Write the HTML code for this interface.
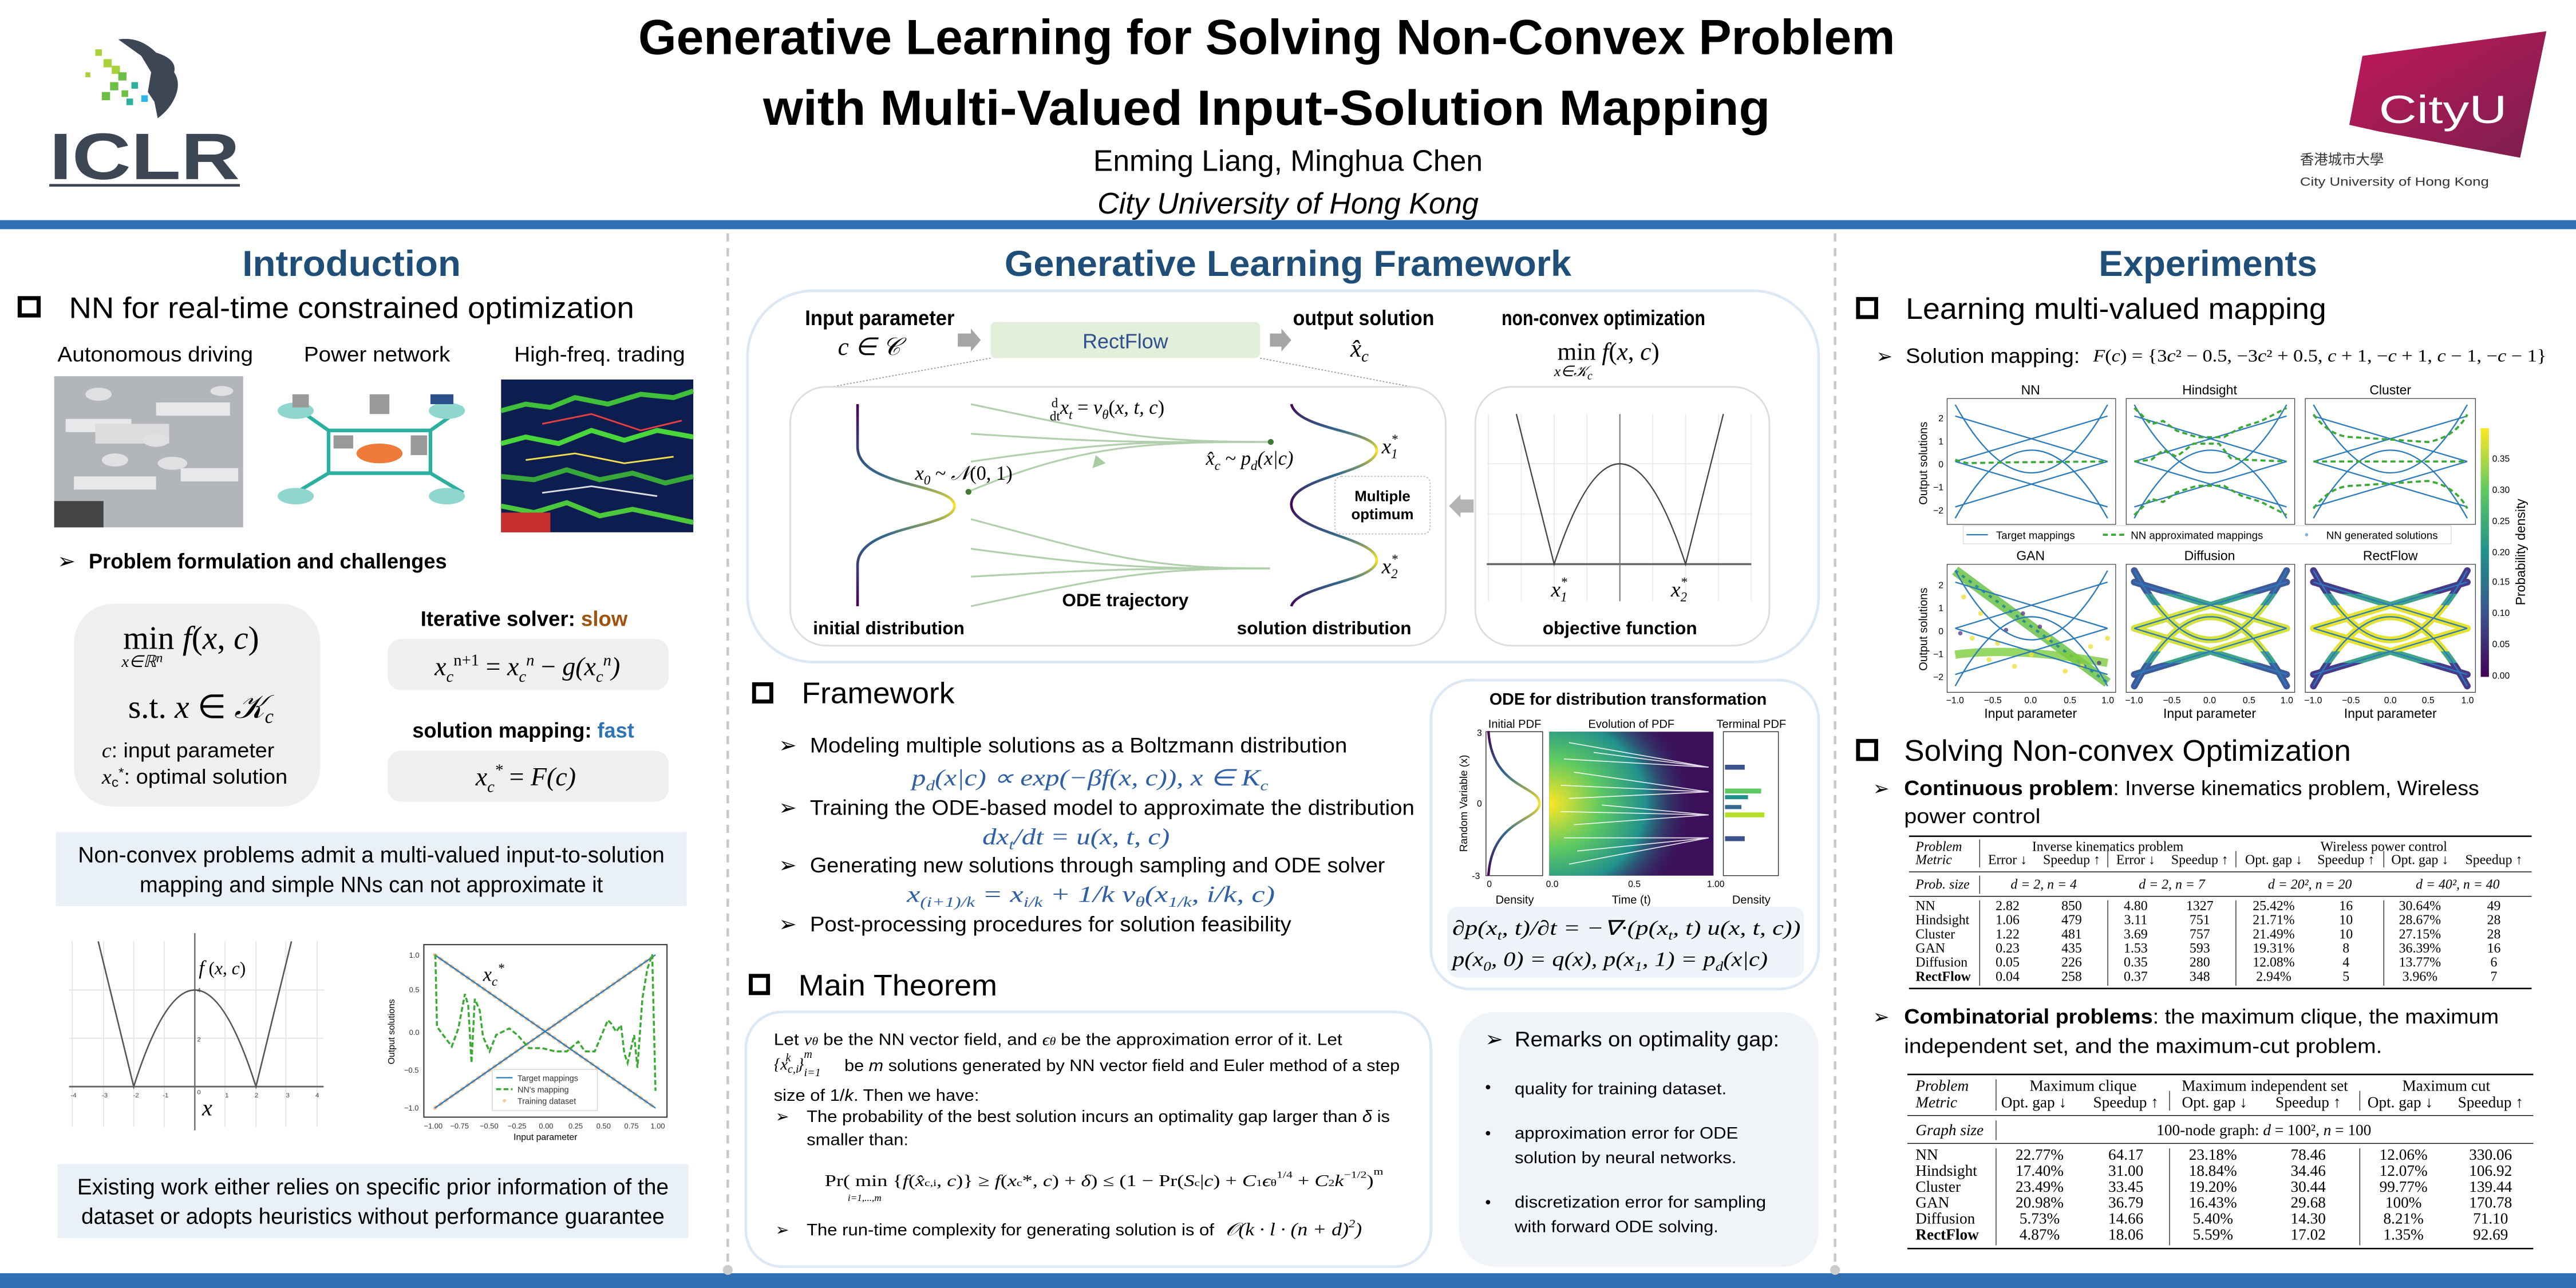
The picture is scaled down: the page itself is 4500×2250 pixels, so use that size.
<!DOCTYPE html>
<html><head><meta charset="utf-8"><style>html,body{margin:0;padding:0;background:#fff}svg{display:block}</style></head><body>
<svg xmlns="http://www.w3.org/2000/svg" width="4500" height="2250" viewBox="0 0 1568 784" font-family="Liberation Sans, sans-serif">
<defs>
<linearGradient id="vir" x1="0" y1="1" x2="0" y2="0"><stop offset="0" stop-color="#440154"/><stop offset=".25" stop-color="#3b528b"/><stop offset=".5" stop-color="#21918c"/><stop offset=".75" stop-color="#5ec962"/><stop offset="1" stop-color="#fde725"/></linearGradient>
<linearGradient id="g1" x1="0" y1="246" x2="0" y2="369" gradientUnits="userSpaceOnUse"><stop offset="0" stop-color="#440154"/><stop offset=".35" stop-color="#31688e"/><stop offset=".5" stop-color="#fde725"/><stop offset=".65" stop-color="#31688e"/><stop offset="1" stop-color="#440154"/></linearGradient>
<linearGradient id="g2" x1="0" y1="246" x2="0" y2="369" gradientUnits="userSpaceOnUse"><stop offset="0" stop-color="#440154"/><stop offset=".13" stop-color="#31688e"/><stop offset=".23" stop-color="#fde725"/><stop offset=".35" stop-color="#31688e"/><stop offset=".5" stop-color="#440154"/><stop offset=".65" stop-color="#31688e"/><stop offset=".77" stop-color="#fde725"/><stop offset=".88" stop-color="#31688e"/><stop offset="1" stop-color="#440154"/></linearGradient>
<linearGradient id="g3" x1="0" y1="445" x2="0" y2="533" gradientUnits="userSpaceOnUse"><stop offset="0" stop-color="#440154"/><stop offset=".3" stop-color="#31688e"/><stop offset=".5" stop-color="#fde725"/><stop offset=".7" stop-color="#31688e"/><stop offset="1" stop-color="#440154"/></linearGradient>
<radialGradient id="rg" cx="0" cy=".5" r=".9"><stop offset="0" stop-color="#fde725"/><stop offset=".35" stop-color="#5ec962"/><stop offset=".65" stop-color="#21918c"/><stop offset="1" stop-color="#3b0f5a" stop-opacity="0"/></radialGradient>
<linearGradient id="city" x1="0" y1="0" x2="1" y2="1"><stop offset="0" stop-color="#c2185b"/><stop offset="1" stop-color="#7b1f4e"/></linearGradient>
<clipPath id="mid"><rect x="0" y="25" width="100" height="28"/></clipPath>
<clipPath id="out1"><rect x="0" y="0" width="100" height="18"/><rect x="0" y="60" width="100" height="18"/></clipPath>
<g id="tm" fill="none" stroke="#2b7bba" stroke-width="0.8">
<path d="M5 4 Q50 88 95 4"/><path d="M5 74 Q50 -10 95 74"/>
<path d="M5 39 L95 11"/><path d="M5 11 L95 39"/><path d="M5 67 L95 39"/><path d="M5 39 L95 67"/>
</g>
<g id="tmw" fill="none" stroke-width="4" stroke-linecap="round">
<path d="M5 4 Q50 88 95 4"/><path d="M5 74 Q50 -10 95 74"/>
<path d="M5 39 L95 11"/><path d="M5 11 L95 39"/><path d="M5 67 L95 39"/><path d="M5 39 L95 67"/>
</g>
</defs>

<!-- HEADER -->
<g>
<g fill="#a8d23a"><rect x="58" y="30" width="4" height="4"/><rect x="63" y="36" width="5" height="5"/><rect x="68" y="40" width="5" height="5"/><rect x="52" y="44" width="3" height="3"/></g>
<g fill="#6cbf45"><rect x="72" y="44" width="5" height="5"/><rect x="67" y="50" width="5" height="5"/><rect x="62" y="56" width="5" height="5"/><rect x="74" y="55" width="4" height="4"/></g>
<g fill="#2bb0a0"><rect x="80" y="50" width="4" height="4"/><rect x="77" y="60" width="4" height="4"/></g>
<rect x="86" y="58" width="4" height="4" fill="#2bb5e8"/>
<path d="M72 24 Q85 22 95 32 Q108 36 106 44 Q110 50 107 58 Q104 66 96 72 L94 62 L90 56 L92 44 L86 34 Z" fill="#3d4654"/>
<text x="30" y="109" font-size="40" font-weight="bold" fill="#3d4654" textLength="116" lengthAdjust="spacingAndGlyphs">ICLR</text>
<rect x="30" y="112" width="116" height="1.6" fill="#3d4654"/>

<text x="771" y="33" text-anchor="middle" font-size="30" font-weight="bold" textLength="765" lengthAdjust="spacingAndGlyphs">Generative Learning for Solving Non-Convex Problem</text>
<text x="771" y="76" text-anchor="middle" font-size="30" font-weight="bold" textLength="613" lengthAdjust="spacingAndGlyphs">with Multi-Valued Input-Solution Mapping</text>
<text x="784" y="104" text-anchor="middle" font-size="18" textLength="237" lengthAdjust="spacingAndGlyphs">Enming Liang, Minghua Chen</text>
<text x="784" y="130" text-anchor="middle" font-size="18" font-style="italic" textLength="232" lengthAdjust="spacingAndGlyphs">City University of Hong Kong</text>

<path d="M1448 80 L1430 76 L1438 34 L1550 19 L1534 96 Z" fill="url(#city)"/>
<text x="1448" y="75" font-size="24" fill="#fff" textLength="78" lengthAdjust="spacingAndGlyphs">CityU</text>
<text x="1400" y="100" font-size="8.5" fill="#333" font-family="Liberation Sans, Noto Sans CJK TC, sans-serif">香港城市大學</text>
<text x="1400" y="113" font-size="7.5" fill="#333" textLength="115" lengthAdjust="spacingAndGlyphs">City University of Hong Kong</text>
</g>

<rect x="0" y="134" width="1568" height="5.5" fill="#2f6fb3"/>
<rect x="0" y="775" width="1568" height="9" fill="#2f6fb3"/>
<line x1="443" y1="142" x2="443" y2="772" stroke="#c9c9c9" stroke-width="1.6" stroke-dasharray="5,4"/>
<line x1="1117" y1="142" x2="1117" y2="772" stroke="#c9c9c9" stroke-width="1.6" stroke-dasharray="5,4"/>
<circle cx="443" cy="773" r="3" fill="#ccc"/><circle cx="1117" cy="773" r="3" fill="#ccc"/>

<!-- INTRODUCTION -->
<text x="214" y="168" text-anchor="middle" font-size="22" font-weight="bold" fill="#1f4e79" textLength="133" lengthAdjust="spacingAndGlyphs">Introduction</text>
<rect x="12" y="181.5" width="11.5" height="10.5" fill="none" stroke="#000" stroke-width="2.5"/>
<text x="42" y="193.5" font-size="18" textLength="344" lengthAdjust="spacingAndGlyphs">NN for real-time constrained optimization</text>
<text x="35" y="220" font-size="13" textLength="119" lengthAdjust="spacingAndGlyphs">Autonomous driving</text>
<text x="185" y="220" font-size="13" textLength="89" lengthAdjust="spacingAndGlyphs">Power network</text>
<text x="313" y="220" font-size="13" textLength="104" lengthAdjust="spacingAndGlyphs">High-freq. trading</text>

<!-- images -->
<rect x="33" y="229" width="115" height="92" fill="#b2b5ba"/>
<g fill="#e8e8ea"><rect x="40" y="255" width="40" height="8"/><rect x="95" y="245" width="45" height="8"/><rect x="45" y="290" width="50" height="8"/><rect x="110" y="285" width="35" height="8"/></g>
<rect x="58" y="258" width="45" height="12" fill="#dcdcdc"/>
<g fill="#e0e0e2"><ellipse cx="60" cy="240" rx="8" ry="4"/><ellipse cx="95" cy="268" rx="8" ry="4"/><ellipse cx="135" cy="238" rx="7" ry="3"/><ellipse cx="105" cy="282" rx="9" ry="4"/><ellipse cx="70" cy="280" rx="8" ry="4"/></g>
<rect x="33" y="305" width="30" height="16" fill="#444"/>
<rect x="165" y="232" width="122" height="84" fill="#fff"/>
<g stroke="#2bb0a0" stroke-width="2.2" fill="none"><path d="M180 248 L200 262 L262 262 L282 248"/><path d="M180 300 L200 288 L262 288 L282 300"/><path d="M200 262 L200 288 M262 262 L262 288"/></g>
<g fill="#8fd6cf"><ellipse cx="180" cy="250" rx="11" ry="5"/><ellipse cx="272" cy="250" rx="11" ry="5"/><ellipse cx="180" cy="302" rx="11" ry="5"/><ellipse cx="272" cy="302" rx="11" ry="5"/></g>
<ellipse cx="231" cy="276" rx="14" ry="6" fill="#f07a3a"/>
<g fill="#999"><rect x="178" y="240" width="10" height="8"/><rect x="262" y="240" width="14" height="6" fill="#2b4f8a"/><rect x="225" y="240" width="12" height="12"/><rect x="203" y="265" width="12" height="8"/><rect x="250" y="265" width="10" height="12"/></g>
<rect x="305" y="231" width="117" height="93" fill="#0d1d4f"/>
<g fill="none" stroke-width="3"><path d="M305 250 L320 246 L335 248 L350 242 L370 246 L390 240 L410 242 L422 238" stroke="#3fbf3a"/><path d="M305 270 L320 266 L340 270 L360 262 L380 268 L400 262 L422 266" stroke="#49d63a"/><path d="M305 290 L325 292 L345 286 L365 292 L385 288 L405 294 L422 290" stroke="#38a83a"/><path d="M305 308 L325 312 L345 306 L365 314 L385 310 L422 318" stroke="#4cc83c"/></g>
<g fill="none" stroke-width="1"><path d="M330 258 L360 252 L390 262 L415 256" stroke="#e84040"/><path d="M320 280 L350 276 L380 282 L410 278" stroke="#f0e050"/><path d="M330 300 L360 296 L400 302" stroke="#ddd"/></g>
<rect x="305" y="312" width="30" height="12" fill="#c83030"/>

<text x="35" y="346" font-size="13">➢</text>
<text x="54" y="346" font-size="13" font-weight="bold" textLength="218" lengthAdjust="spacingAndGlyphs">Problem formulation and challenges</text>
<rect x="45" y="367.5" width="150" height="123.5" rx="24" fill="#efefef"/>
<text x="75" y="395" font-size="20" font-family="Liberation Serif, serif">min <tspan font-style="italic">f</tspan>(<tspan font-style="italic">x</tspan>, <tspan font-style="italic">c</tspan>)</text>
<text x="74" y="406" font-size="10" font-family="Liberation Serif, serif" font-style="italic">x∈ℝ<tspan font-size="8" dy="-3">n</tspan></text>
<text x="78" y="437" font-size="20" font-family="Liberation Serif, serif">s.t.  <tspan font-style="italic">x</tspan> ∈ <tspan font-style="italic">𝒦</tspan><tspan font-size="12" font-style="italic" dy="3">c</tspan></text>
<text x="62" y="461" font-size="12.5" textLength="105" lengthAdjust="spacingAndGlyphs"><tspan font-style="italic" font-family="Liberation Serif, serif">c</tspan>: input parameter</text>
<text x="62" y="477" font-size="12.5" textLength="113" lengthAdjust="spacingAndGlyphs"><tspan font-style="italic" font-family="Liberation Serif, serif">x</tspan><tspan font-size="8" dy="2">c</tspan><tspan font-size="8" dy="-6">*</tspan><tspan dy="4">: optimal solution</tspan></text>

<text x="256" y="381" font-size="13" font-weight="bold" textLength="126" lengthAdjust="spacingAndGlyphs">Iterative solver: <tspan fill="#a0520f">slow</tspan></text>
<rect x="236" y="389" width="171" height="31" rx="8" fill="#efefef"/>
<text x="321" y="411" text-anchor="middle" font-size="16" font-family="Liberation Serif, serif" font-style="italic">x<tspan font-size="10" dy="4">c</tspan><tspan font-size="10" dy="-10" font-style="normal">n+1</tspan><tspan dy="6" font-style="normal"> = </tspan>x<tspan font-size="10" dy="4">c</tspan><tspan font-size="10" dy="-10">n</tspan><tspan dy="6" font-style="normal"> − </tspan>g(x<tspan font-size="10" dy="4">c</tspan><tspan font-size="10" dy="-10">n</tspan><tspan dy="6">)</tspan></text>
<text x="251" y="449" font-size="13" font-weight="bold" textLength="135" lengthAdjust="spacingAndGlyphs">solution mapping: <tspan fill="#2e75b6">fast</tspan></text>
<rect x="236" y="457" width="171" height="31" rx="8" fill="#efefef"/>
<text x="320" y="478" text-anchor="middle" font-size="16" font-family="Liberation Serif, serif" font-style="italic">x<tspan font-size="10" dy="4">c</tspan><tspan font-size="10" dy="-10">*</tspan><tspan dy="6" font-style="normal"> = </tspan>F(c)</text>

<rect x="34" y="506.5" width="384" height="45" fill="#e9f0f8"/>
<text x="226" y="525" text-anchor="middle" font-size="13.5" textLength="357" lengthAdjust="spacingAndGlyphs">Non-convex problems admit a multi-valued input-to-solution</text>
<text x="226" y="543" text-anchor="middle" font-size="13.5" textLength="282" lengthAdjust="spacingAndGlyphs">mapping and simple NNs can not approximate it</text>

<!-- left intro plot -->
<g stroke="#e3e3e3" stroke-width="0.6"><line x1="44" y1="573" x2="44" y2="686"/><line x1="63" y1="573" x2="63" y2="686"/><line x1="81.4" y1="573" x2="81.4" y2="686"/><line x1="100" y1="573" x2="100" y2="686"/><line x1="137" y1="573" x2="137" y2="686"/><line x1="155.8" y1="573" x2="155.8" y2="686"/><line x1="174" y1="573" x2="174" y2="686"/><line x1="193" y1="573" x2="193" y2="686"/><line x1="42" y1="602.6" x2="197" y2="602.6"/><line x1="42" y1="632" x2="197" y2="632"/></g>
<line x1="42" y1="661.4" x2="197" y2="661.4" stroke="#666" stroke-width="1"/>
<line x1="118.6" y1="568" x2="118.6" y2="688" stroke="#666" stroke-width="0.8"/>
<path d="M59.8 573 L81.4 661.4 Q118.6 543.8 155.8 661.4 L177.4 573" fill="none" stroke="#555" stroke-width="0.9"/>
<g font-size="4" fill="#444"><text x="43" y="668">-4</text><text x="62" y="668">-3</text><text x="81" y="668">-2</text><text x="99" y="668">-1</text><text x="120" y="666">0</text><text x="137" y="668">1</text><text x="155" y="668">2</text><text x="174" y="668">3</text><text x="192" y="668">4</text><text x="120" y="604">4</text><text x="120" y="634">2</text></g>
<text x="121" y="593" font-size="12" font-family="Liberation Serif, serif" font-style="italic">f</text><text x="127" y="593" font-size="11" font-family="Liberation Serif, serif">(<tspan font-style="italic">x</tspan>, <tspan font-style="italic">c</tspan>)</text>
<text x="123" y="679" font-size="14" font-family="Liberation Serif, serif" font-style="italic">x</text>

<!-- right intro plot -->
<rect x="258" y="575" width="148" height="105" fill="#fff" stroke="#333" stroke-width="0.7"/>
<g stroke="#f5c79a" stroke-width="2.2" stroke-dasharray="1,3" stroke-linecap="round"><line x1="264.6" y1="581.2" x2="399" y2="674.5"/><line x1="264.6" y1="674.5" x2="399" y2="581.2"/></g>
<g stroke="#2b7bba" stroke-width="0.8"><line x1="264.6" y1="581.2" x2="399" y2="674.5"/><line x1="264.6" y1="674.5" x2="399" y2="581.2"/></g>
<polyline points="265,581 266,625 275,637 279,626 283,605 285,612 287,647 289,608 292,615 294,631 298,640 302,630 310,626 315,630 322,638 330,638 338,640 345,640 352,634 356,640 362,640 370,621 372,623 375,628 378,624 380,641 382,647 386,630 388,650 391,608 394,590 397,581 399,664" fill="none" stroke="#3aaa35" stroke-width="1.2" stroke-dasharray="3,1.5"/>
<text x="294" y="597" font-size="12" font-family="Liberation Serif, serif" font-style="italic">x<tspan font-size="8" dy="3">c</tspan><tspan font-size="8" dy="-8">*</tspan></text>
<rect x="299.6" y="651" width="64" height="25" fill="#fff" stroke="#ccc" stroke-width="0.4"/>
<line x1="302" y1="656" x2="312" y2="656" stroke="#2b7bba" stroke-width="0.8"/><line x1="302" y1="663" x2="312" y2="663" stroke="#3aaa35" stroke-width="1.2" stroke-dasharray="3,1.5"/><circle cx="307" cy="670" r="1" fill="#f5c79a"/>
<g font-size="5" fill="#333"><text x="315" y="658">Target mappings</text><text x="315" y="665">NN's mapping</text><text x="315" y="672">Training dataset</text></g>
<g font-size="4.5" fill="#333"><text x="249" y="583">1.0</text><text x="249" y="604">0.5</text><text x="249" y="630">0.0</text><text x="246" y="653">−0.5</text><text x="246" y="676">−1.0</text>
<text x="258" y="687">−1.00</text><text x="274" y="687">−0.75</text><text x="292" y="687">−0.50</text><text x="309" y="687">−0.25</text><text x="328" y="687">0.00</text><text x="346" y="687">0.25</text><text x="363" y="687">0.50</text><text x="380" y="687">0.75</text><text x="396" y="687">1.00</text></g>
<text x="332" y="694" text-anchor="middle" font-size="5.5">Input parameter</text>
<text transform="translate(240,628) rotate(-90)" text-anchor="middle" font-size="5.5">Output solutions</text>

<rect x="35" y="708.6" width="384" height="45" fill="#e9f0f8"/>
<text x="227" y="727" text-anchor="middle" font-size="13.5" textLength="360" lengthAdjust="spacingAndGlyphs">Existing work either relies on specific prior information of the</text>
<text x="227" y="745" text-anchor="middle" font-size="13.5" textLength="355" lengthAdjust="spacingAndGlyphs">dataset or adopts heuristics without performance guarantee</text>

<!-- MIDDLE COLUMN -->
<text x="784" y="168" text-anchor="middle" font-size="22" font-weight="bold" fill="#1f4e79" textLength="345" lengthAdjust="spacingAndGlyphs">Generative Learning Framework</text>
<rect x="455" y="177" width="652" height="226" rx="40" fill="#fff" stroke="#dce8f5" stroke-width="1.6"/>
<text x="490" y="198" font-size="13" font-weight="bold" textLength="91" lengthAdjust="spacingAndGlyphs">Input parameter</text>
<text x="510" y="216" font-size="15" font-family="Liberation Serif, serif" font-style="italic">c ∈ 𝒞</text>
<path d="M583 203 L591 203 L591 200 L597 207 L591 214 L591 211 L583 211 Z" fill="#a6a6a6"/>
<rect x="603" y="196" width="164" height="22" rx="3" fill="#e2efda"/>
<text x="685" y="212" text-anchor="middle" font-size="12.5" fill="#2f4f8f">RectFlow</text>
<path d="M773 203 L780 203 L780 200 L786 207 L780 214 L780 211 L773 211 Z" fill="#a6a6a6"/>
<text x="787" y="198" font-size="13" font-weight="bold" textLength="86" lengthAdjust="spacingAndGlyphs">output solution</text>
<text x="822" y="217" font-size="15" font-family="Liberation Serif, serif" font-style="italic">x̂<tspan font-size="10" dy="3">c</tspan></text>
<text x="914" y="198" font-size="13" font-weight="bold" textLength="124" lengthAdjust="spacingAndGlyphs">non-convex optimization</text>
<text x="948" y="219" font-size="15" font-family="Liberation Serif, serif">min  <tspan font-style="italic">f</tspan>(<tspan font-style="italic">x</tspan>, <tspan font-style="italic">c</tspan>)</text>
<text x="946" y="229" font-size="9" font-family="Liberation Serif, serif" font-style="italic">x∈𝒦<tspan font-size="7" dy="2">c</tspan></text>
<g stroke="#999" stroke-width="0.6" stroke-dasharray="1,1"><line x1="603" y1="218" x2="503" y2="236"/><line x1="767" y1="218" x2="862" y2="236"/></g>

<rect x="481" y="235.5" width="399" height="157.5" rx="22" fill="#fff" stroke="#ddd" stroke-width="1"/>
<rect x="898" y="235.5" width="179" height="157.5" rx="22" fill="#fff" stroke="#ddd" stroke-width="1"/>
<path d="M522 246 L522 272 C522 297 581 294 581 308 C581 322 522 319 522 344 L522 369" fill="none" stroke="url(#g1)" stroke-width="1.6"/>
<path d="M786 246 C790 262 838 262 838 274 C838 288 786 290 786 307 C786 324 838 327 838 341 C838 354 790 356 786 369" fill="none" stroke="url(#g2)" stroke-width="1.6"/>
<g fill="none" stroke="#b2cfad" stroke-width="1.1">
<path d="M591 246 C680 265 700 269 773 269"/><path d="M591 264 C680 270 700 269 773 269"/><path d="M591 281 C680 268 700 269 773 269"/><path d="M590 299 C660 270 700 269 773 269"/>
<path d="M591 316 C680 340 700 346 773 346"/><path d="M591 334 C680 346 700 346 773 346"/><path d="M591 351 C680 346 700 346 773 346"/><path d="M591 369 C680 350 700 346 773 346"/></g>
<path d="M667 277 L673 282 L665 285 Z" fill="#a8cc9f"/>
<circle cx="589.5" cy="299.4" r="1.8" fill="#3e7a32"/><circle cx="773.5" cy="269" r="1.8" fill="#3e7a32"/>
<text x="639" y="252" font-size="12" font-family="Liberation Serif, serif"><tspan font-size="8" dy="-4">d</tspan><tspan font-size="8" dx="-5" dy="8">dt</tspan><tspan font-style="italic" dy="-4">x</tspan><tspan font-size="8" font-style="italic" dy="3">t</tspan><tspan dy="-3"> = </tspan><tspan font-style="italic">v</tspan><tspan font-size="8" font-style="italic" dy="3">θ</tspan><tspan dy="-3">(</tspan><tspan font-style="italic">x, t, c</tspan>)</text>
<text x="557" y="292" font-size="12" font-family="Liberation Serif, serif" font-style="italic">x<tspan font-size="8" dy="3">0</tspan><tspan dy="-3" font-style="normal"> ~ </tspan>𝒩<tspan font-style="normal">(0, 1)</tspan></text>
<text x="734" y="283" font-size="12" font-family="Liberation Serif, serif" font-style="italic">x̂<tspan font-size="8" dy="3">c</tspan><tspan dy="-3" font-style="normal"> ~ </tspan>p<tspan font-size="8" dy="3">d</tspan><tspan dy="-3">(x|c)</tspan></text>
<text x="841" y="276" font-size="13" font-family="Liberation Serif, serif" font-style="italic">x<tspan font-size="8" dy="3">1</tspan><tspan font-size="8" dx="-4" dy="-9">*</tspan></text>
<text x="841" y="349" font-size="13" font-family="Liberation Serif, serif" font-style="italic">x<tspan font-size="8" dy="3">2</tspan><tspan font-size="8" dx="-4" dy="-9">*</tspan></text>
<rect x="812.5" y="290" width="58" height="35" rx="4" fill="#fff" stroke="#bbb" stroke-width="0.6" stroke-dasharray="1,1"/>
<text x="841.5" y="305" text-anchor="middle" font-size="9" font-weight="bold">Multiple</text>
<text x="841.5" y="316" text-anchor="middle" font-size="9" font-weight="bold">optimum</text>
<path d="M897 304 L889 304 L889 301 L882 308 L889 315 L889 312 L897 312 Z" fill="#b3b3b3"/>
<text x="685" y="369" text-anchor="middle" font-size="11" font-weight="bold">ODE trajectory</text>
<text x="541" y="386" text-anchor="middle" font-size="11" font-weight="bold">initial distribution</text>
<text x="806" y="386" text-anchor="middle" font-size="11" font-weight="bold">solution distribution</text>
<!-- objective -->
<g stroke="#eaeaea" stroke-width="0.6"><line x1="906" y1="252" x2="906" y2="366"/><line x1="926" y1="252" x2="926" y2="366"/><line x1="946" y1="252" x2="946" y2="366"/><line x1="966" y1="252" x2="966" y2="366"/><line x1="1006" y1="252" x2="1006" y2="366"/><line x1="1026" y1="252" x2="1026" y2="366"/><line x1="1046" y1="252" x2="1046" y2="366"/><line x1="1066" y1="252" x2="1066" y2="366"/><line x1="905" y1="282.3" x2="1066" y2="282.3"/><line x1="905" y1="312.8" x2="1066" y2="312.8"/></g>
<line x1="905" y1="343.4" x2="1066" y2="343.4" stroke="#666" stroke-width="1.2"/>
<line x1="986" y1="252" x2="986" y2="366" stroke="#777" stroke-width="0.7"/>
<path d="M923 252 L946 343.4 Q986 221.2 1026 343.4 L1049 252" fill="none" stroke="#444" stroke-width="0.8"/>
<text x="949" y="363" text-anchor="middle" font-size="13" font-family="Liberation Serif, serif" font-style="italic">x<tspan font-size="8" dy="3">1</tspan><tspan font-size="8" dx="-4" dy="-9">*</tspan></text>
<text x="1022" y="363" text-anchor="middle" font-size="13" font-family="Liberation Serif, serif" font-style="italic">x<tspan font-size="8" dy="3">2</tspan><tspan font-size="8" dx="-4" dy="-9">*</tspan></text>
<text x="986" y="386" text-anchor="middle" font-size="11" font-weight="bold">objective function</text>

<!-- Framework -->
<rect x="459" y="416.5" width="10.5" height="10.5" fill="none" stroke="#000" stroke-width="2.4"/>
<text x="488" y="428" font-size="18" textLength="93" lengthAdjust="spacingAndGlyphs">Framework</text>
<g font-size="13">
<text x="474" y="458">➢</text><text x="493" y="458" textLength="327" lengthAdjust="spacingAndGlyphs">Modeling multiple solutions as a Boltzmann distribution</text>
<text x="474" y="496">➢</text><text x="493" y="496" textLength="368" lengthAdjust="spacingAndGlyphs">Training the ODE-based model to approximate the distribution</text>
<text x="474" y="531">➢</text><text x="493" y="531" textLength="350" lengthAdjust="spacingAndGlyphs">Generating new solutions through sampling and ODE solver</text>
<text x="474" y="567">➢</text><text x="493" y="567" textLength="293" lengthAdjust="spacingAndGlyphs">Post-processing procedures for solution feasibility</text>
</g>
<g fill="#2e5fa6" font-family="Liberation Serif, serif" font-style="italic" font-size="14">
<text x="555" y="478" textLength="217" lengthAdjust="spacingAndGlyphs">p<tspan font-size="9" dy="3">d</tspan><tspan dy="-3">(x|c) ∝ exp(−βf(x, c)),   x ∈ K</tspan><tspan font-size="9" dy="3">c</tspan></text>
<text x="598" y="514" textLength="114" lengthAdjust="spacingAndGlyphs">dx<tspan font-size="9" dy="3">t</tspan><tspan dy="-3">/dt = u(x, t, c)</tspan></text>
<text x="552" y="549" textLength="224" lengthAdjust="spacingAndGlyphs">x<tspan font-size="9" dy="3">(i+1)/k</tspan><tspan dy="-3"> = x</tspan><tspan font-size="9" dy="3">i/k</tspan><tspan dy="-3"> + 1/k v</tspan><tspan font-size="9" dy="3">θ</tspan><tspan dy="-3">(x</tspan><tspan font-size="9" dy="3">1/k</tspan><tspan dy="-3">, i/k, c)</tspan></text>
</g>

<!-- ODE box -->
<rect x="871" y="414" width="236" height="188" rx="24" fill="#fff" stroke="#dce8f5" stroke-width="1.6"/>
<text x="991" y="429" text-anchor="middle" font-size="10" font-weight="bold">ODE for distribution transformation</text>
<g font-size="7" text-anchor="middle"><text x="922" y="443">Initial PDF</text><text x="993" y="443">Evolution of PDF</text><text x="1066" y="443">Terminal PDF</text></g>
<rect x="904.5" y="445.4" width="34.5" height="87.6" fill="#fff" stroke="#333" stroke-width="0.5"/>
<path d="M906 445 C908 480 937 478 937 489 C937 500 908 498 906 533" fill="none" stroke="url(#g3)" stroke-width="1.5"/>
<rect x="943" y="445.4" width="100" height="87.6" fill="#3b0f5a"/>
<rect x="943" y="445.4" width="100" height="87.6" fill="url(#rg)"/>
<g stroke="#fff" stroke-width="0.6" fill="none" opacity="0.85">
<path d="M955 452 L1040 467"/><path d="M952 462 L1040 467"/><path d="M958 470 L1040 482"/><path d="M950 478 L1040 482"/><path d="M955 486 L1040 482"/><path d="M950 494 L1040 496"/><path d="M958 502 L1040 496"/><path d="M952 510 L1040 510"/><path d="M960 518 L1040 510"/><path d="M955 526 L1040 510"/><path d="M970 458 L1040 467"/><path d="M975 490 L1040 496"/></g>
<rect x="1049" y="445.4" width="33.5" height="87.6" fill="#fff" stroke="#333" stroke-width="0.5"/>
<g><rect x="1050" y="465.5" width="12" height="3" fill="#3b528b"/><rect x="1050" y="480" width="22" height="3" fill="#5ec962"/><rect x="1050" y="484" width="14" height="2.5" fill="#21918c"/><rect x="1050" y="494.5" width="24" height="3" fill="#b5de2b"/><rect x="1050" y="490" width="10" height="2.5" fill="#31688e"/><rect x="1050" y="509" width="12" height="3" fill="#3b528b"/></g>
<g font-size="5.5"><text x="899" y="448">3</text><text x="899" y="491">0</text><text x="896" y="535">-3</text><text x="905" y="540">0</text><text x="941" y="540">0.0</text><text x="991" y="540">0.5</text><text x="1039" y="540">1.00</text></g>
<g font-size="7" text-anchor="middle"><text x="922" y="550">Density</text><text x="993" y="550">Time (t)</text><text x="1066" y="550">Density</text></g>
<text transform="translate(893,489) rotate(-90)" text-anchor="middle" font-size="6.5">Random Variable (x)</text>
<rect x="881" y="552" width="217" height="43" rx="6" fill="#eef2f9"/>
<g font-family="Liberation Serif, serif" font-style="italic" font-size="12.5">
<text x="884" y="569" textLength="212" lengthAdjust="spacingAndGlyphs">∂p(x<tspan font-size="8" dy="3">t</tspan><tspan dy="-3">, t)/∂t = −∇·(p(x</tspan><tspan font-size="8" dy="3">t</tspan><tspan dy="-3">, t) u(x, t, c))</tspan></text>
<text x="884" y="588" textLength="192" lengthAdjust="spacingAndGlyphs">p(x<tspan font-size="8" dy="3">0</tspan><tspan dy="-3">, 0) = q(x),    p(x</tspan><tspan font-size="8" dy="3">1</tspan><tspan dy="-3">, 1) = p</tspan><tspan font-size="8" dy="3">d</tspan><tspan dy="-3">(x|c)</tspan></text>
</g>

<!-- Main theorem -->
<rect x="457" y="594" width="10.5" height="10.5" fill="none" stroke="#000" stroke-width="2.4"/>
<text x="486" y="606" font-size="18" textLength="121" lengthAdjust="spacingAndGlyphs">Main Theorem</text>
<rect x="454" y="616" width="417" height="155" rx="22" fill="#fff" stroke="#dce8f5" stroke-width="1.6"/>
<g font-size="10">
<text x="471" y="636" textLength="346" lengthAdjust="spacingAndGlyphs">Let <tspan font-style="italic" font-family="Liberation Serif, serif">v<tspan font-size="7">θ</tspan></tspan> be the NN vector field, and <tspan font-style="italic" font-family="Liberation Serif, serif">ϵ<tspan font-size="7">θ</tspan></tspan> be the approximation error of it. Let</text>
<text x="471" y="651" font-family="Liberation Serif, serif" font-style="italic" font-size="10">{x<tspan font-size="7" dy="2">c,i</tspan><tspan font-size="7" dx="-8" dy="-7">k</tspan><tspan dx="4" dy="5">}</tspan><tspan font-size="7" dy="-7">m</tspan><tspan font-size="7" dx="-5" dy="11">i=1</tspan></text>
<text x="514" y="652" textLength="338" lengthAdjust="spacingAndGlyphs">be <tspan font-style="italic">m</tspan> solutions generated by NN vector field and Euler method of a step</text>
<text x="471" y="670" textLength="125" lengthAdjust="spacingAndGlyphs">size of 1/<tspan font-style="italic">k</tspan>. Then we have:</text>
<text x="472" y="683">➢</text><text x="491" y="683" textLength="355" lengthAdjust="spacingAndGlyphs">The probability of the best solution incurs an optimality gap larger than <tspan font-style="italic">δ</tspan> is</text>
<text x="491" y="697" textLength="62" lengthAdjust="spacingAndGlyphs">smaller than:</text>
<text x="472" y="752">➢</text><text x="491" y="752" textLength="248" lengthAdjust="spacingAndGlyphs">The run-time complexity for generating solution is of</text>
</g>
<text x="502" y="722" font-family="Liberation Serif, serif" font-size="10" textLength="340" lengthAdjust="spacingAndGlyphs">Pr( min {<tspan font-style="italic">f</tspan>(<tspan font-style="italic">x̂</tspan><tspan font-size="6">c,i</tspan>, <tspan font-style="italic">c</tspan>)} ≥ <tspan font-style="italic">f</tspan>(<tspan font-style="italic">x</tspan><tspan font-size="6">c</tspan>*, <tspan font-style="italic">c</tspan>) + <tspan font-style="italic">δ</tspan>) ≤ (1 − Pr(<tspan font-style="italic">S</tspan><tspan font-size="6">c</tspan>|<tspan font-style="italic">c</tspan>) + <tspan font-style="italic">C</tspan><tspan font-size="6">1</tspan><tspan font-style="italic">ϵ</tspan><tspan font-size="6">θ</tspan><tspan font-size="6" dy="-5">1/4</tspan><tspan dy="5"> + </tspan><tspan font-style="italic">C</tspan><tspan font-size="6">2</tspan><tspan font-style="italic">k</tspan><tspan font-size="6" dy="-5">−1/2</tspan><tspan dy="5">)</tspan><tspan font-size="6" dy="-7">m</tspan></text>
<text x="516" y="731" font-family="Liberation Serif, serif" font-size="6" font-style="italic">i=1,...,m</text>
<text x="746" y="752" font-family="Liberation Serif, serif" font-size="11" font-style="italic" textLength="83" lengthAdjust="spacingAndGlyphs">𝒪(k · l · (n + d)<tspan font-size="7" dy="-5">2</tspan><tspan dy="5">)</tspan></text>

<!-- Remarks -->
<rect x="888" y="616" width="219" height="155" rx="22" fill="#f0f3f8"/>
<text x="904" y="637" font-size="13">➢</text>
<text x="922" y="637" font-size="13" textLength="161" lengthAdjust="spacingAndGlyphs">Remarks on optimality gap:</text>
<g font-size="10"><text x="904" y="665">•</text><text x="922" y="666" textLength="129" lengthAdjust="spacingAndGlyphs">quality for training dataset.</text>
<text x="904" y="693">•</text><text x="922" y="693" textLength="136" lengthAdjust="spacingAndGlyphs">approximation error for ODE</text><text x="922" y="708" textLength="135" lengthAdjust="spacingAndGlyphs">solution by neural networks.</text>
<text x="904" y="735">•</text><text x="922" y="735" textLength="153" lengthAdjust="spacingAndGlyphs">discretization error for sampling</text><text x="922" y="750" textLength="124" lengthAdjust="spacingAndGlyphs">with forward ODE solving.</text></g>

<!-- EXPERIMENTS -->
<text x="1344" y="168" text-anchor="middle" font-size="22" font-weight="bold" fill="#1f4e79" textLength="133" lengthAdjust="spacingAndGlyphs">Experiments</text>
<rect x="1131" y="182" width="11" height="11" fill="none" stroke="#000" stroke-width="2.4"/>
<text x="1160" y="194" font-size="18" textLength="256" lengthAdjust="spacingAndGlyphs">Learning multi-valued mapping</text>
<text x="1142" y="221" font-size="12">➢</text>
<text x="1160" y="221" font-size="12.5" textLength="106" lengthAdjust="spacingAndGlyphs">Solution mapping:</text>
<text x="1274" y="220" font-family="Liberation Serif, serif" font-size="10.5" textLength="276" lengthAdjust="spacingAndGlyphs"><tspan font-style="italic">F</tspan>(<tspan font-style="italic">c</tspan>) = {3<tspan font-style="italic">c</tspan>² − 0.5,  −3<tspan font-style="italic">c</tspan>² + 0.5,  <tspan font-style="italic">c</tspan> + 1,  −<tspan font-style="italic">c</tspan> + 1,  <tspan font-style="italic">c</tspan> − 1,  −<tspan font-style="italic">c</tspan> − 1}</text>

<g font-size="8" text-anchor="middle"><text x="1236" y="240">NN</text><text x="1345" y="240">Hindsight</text><text x="1455" y="240">Cluster</text><text x="1236" y="341">GAN</text><text x="1345" y="341">Diffusion</text><text x="1455" y="341">RectFlow</text></g>
<!-- panels -->
<svg x="1185" y="242.4" width="103" height="77" viewBox="0 0 100 78" preserveAspectRatio="none"><rect x="0" y="0" width="100" height="78" fill="#fff" stroke="#333" stroke-width="0.8"/><use href="#tm"/><path d="M5 38 L12 40 L40 39.5 L95 39" fill="none" stroke="#3aaa35" stroke-width="1.3" stroke-dasharray="3,2"/></svg>
<svg x="1294" y="242.4" width="103" height="77" viewBox="0 0 100 78" preserveAspectRatio="none"><rect x="0" y="0" width="100" height="78" fill="#fff" stroke="#333" stroke-width="0.8"/><use href="#tm"/><g fill="none" stroke="#3aaa35" stroke-width="1.3" stroke-dasharray="3,2"><path d="M5 6 L15 16 L22 14 L30 20 L42 24 L58 24 L68 18 L80 14 L95 6"/><path d="M5 39 L15 38 L22 32 L30 36 L40 28 L55 28 L62 37 L72 38 L95 39"/><path d="M5 72 L15 62 L22 64 L30 58 L42 54 L58 54 L68 60 L80 64 L95 72"/></g></svg>
<svg x="1403" y="242.4" width="104" height="77" viewBox="0 0 100 78" preserveAspectRatio="none"><rect x="0" y="0" width="100" height="78" fill="#fff" stroke="#333" stroke-width="0.8"/><use href="#tm"/><g fill="none" stroke="#3aaa35" stroke-width="1.3" stroke-dasharray="3,2"><path d="M5 10 Q15 24 28 24 L72 27 Q88 24 95 10"/><path d="M5 39 L95 39"/><path d="M5 68 Q15 54 28 54 L72 51 Q88 54 95 68"/></g></svg>
<svg x="1185" y="343.3" width="103" height="78.3" viewBox="0 0 100 78" preserveAspectRatio="none"><rect x="0" y="0" width="100" height="78" fill="#fff" stroke="#333" stroke-width="0.8"/>
<path d="M5 4 L95 72" stroke="#6cc24a" stroke-width="6" opacity="0.85"/><path d="M5 4 L95 72" stroke="#2a8f8a" stroke-width="1.5" stroke-dasharray="2,3"/>
<path d="M5 55 Q40 50 95 60" stroke="#7ccc3c" stroke-width="5" fill="none" opacity="0.8"/>
<g fill="#f0e040" opacity="0.8"><circle cx="10" cy="20" r="1.5"/><circle cx="20" cy="30" r="1.5"/><circle cx="30" cy="48" r="1.5"/><circle cx="50" cy="55" r="1.5"/><circle cx="60" cy="45" r="1.5"/><circle cx="70" cy="65" r="1.5"/><circle cx="85" cy="50" r="1.5"/><circle cx="95" cy="45" r="1.5"/><circle cx="40" cy="62" r="1.5"/><circle cx="15" cy="45" r="1.5"/><circle cx="25" cy="58" r="1.5"/><circle cx="80" cy="62" r="1.5"/></g>
<g fill="#5b3c8c" opacity="0.8"><circle cx="8" cy="42" r="1.3"/><circle cx="35" cy="40" r="1.3"/><circle cx="55" cy="38" r="1.3"/><circle cx="90" cy="60" r="1.3"/><circle cx="45" cy="30" r="1.3"/></g>
<use href="#tm"/></svg>
<svg x="1294" y="343.3" width="103" height="78.3" viewBox="0 0 100 78" preserveAspectRatio="none"><rect x="0" y="0" width="100" height="78" fill="#fff" stroke="#333" stroke-width="0.8"/><use href="#tmw" stroke="#3fa48a"/><use href="#tmw" stroke="#d6e23a" clip-path="url(#mid)"/><use href="#tmw" stroke="#3f5a9a" clip-path="url(#out1)"/><use href="#tm"/></svg>
<svg x="1403" y="343.3" width="104" height="78.3" viewBox="0 0 100 78" preserveAspectRatio="none"><rect x="0" y="0" width="100" height="78" fill="#fff" stroke="#333" stroke-width="0.8"/><use href="#tmw" stroke="#3fa48a"/><use href="#tmw" stroke="#e8e32a" clip-path="url(#mid)"/><use href="#tmw" stroke="#473a8a" clip-path="url(#out1)"/><use href="#tm"/></svg>
<rect x="1195" y="320" width="297" height="11" fill="#fff" stroke="#ddd" stroke-width="0.5"/>
<line x1="1197" y1="325.5" x2="1210" y2="325.5" stroke="#2b7bba" stroke-width="0.8"/><line x1="1280" y1="325.5" x2="1293" y2="325.5" stroke="#3aaa35" stroke-width="1.3" stroke-dasharray="3,2"/><circle cx="1404" cy="325.5" r="1" fill="#7fb2d8"/>
<g font-size="6.5"><text x="1215" y="328">Target mappings</text><text x="1297" y="328">NN approximated mappings</text><text x="1416" y="328">NN generated solutions</text></g>
<g font-size="5.5" text-anchor="end"><text x="1183" y="256.5">2</text><text x="1183" y="270.5">1</text><text x="1183" y="284.5">0</text><text x="1183" y="298.5">−1</text><text x="1183" y="312.5">−2</text><text x="1183" y="358">2</text><text x="1183" y="372">1</text><text x="1183" y="386">0</text><text x="1183" y="400">−1</text><text x="1183" y="414">−2</text></g>
<g font-size="5.5" text-anchor="middle"><text x="1190" y="428">−1.0</text><text x="1213" y="428">−0.5</text><text x="1236" y="428">0.0</text><text x="1260" y="428">0.5</text><text x="1283" y="428">1.0</text><text x="1299" y="428">−1.0</text><text x="1322" y="428">−0.5</text><text x="1345" y="428">0.0</text><text x="1369" y="428">0.5</text><text x="1392" y="428">1.0</text><text x="1408" y="428">−1.0</text><text x="1431" y="428">−0.5</text><text x="1455" y="428">0.0</text><text x="1478" y="428">0.5</text><text x="1502" y="428">1.0</text></g>
<g font-size="8" text-anchor="middle"><text x="1236" y="437">Input parameter</text><text x="1345" y="437">Input parameter</text><text x="1455" y="437">Input parameter</text></g>
<text transform="translate(1173,282) rotate(-90)" text-anchor="middle" font-size="7">Output solutions</text>
<text transform="translate(1173,383) rotate(-90)" text-anchor="middle" font-size="7">Output solutions</text>
<rect x="1510" y="260.6" width="5" height="151.4" fill="url(#vir)"/>
<g font-size="5.5"><text x="1517" y="281">0.35</text><text x="1517" y="300">0.30</text><text x="1517" y="319">0.25</text><text x="1517" y="338">0.20</text><text x="1517" y="356">0.15</text><text x="1517" y="375">0.10</text><text x="1517" y="394">0.05</text><text x="1517" y="413">0.00</text></g>
<text transform="translate(1537,336) rotate(-90)" text-anchor="middle" font-size="8">Probability density</text>

<!-- Solving -->
<rect x="1131" y="451" width="11" height="11" fill="none" stroke="#000" stroke-width="2.4"/>
<text x="1159" y="463" font-size="18" textLength="272" lengthAdjust="spacingAndGlyphs">Solving Non-convex Optimization</text>
<text x="1140" y="484" font-size="12">➢</text>
<text x="1159" y="484" font-size="12.5" textLength="350" lengthAdjust="spacingAndGlyphs"><tspan font-weight="bold">Continuous problem</tspan>: Inverse kinematics problem, Wireless</text>
<text x="1159" y="501" font-size="12.5" textLength="83" lengthAdjust="spacingAndGlyphs">power control</text>

<g font-family="Liberation Serif, serif" font-size="8.3">
<line x1="1162" y1="509" x2="1541" y2="509" stroke="#000" stroke-width="0.9"/>
<line x1="1162" y1="530.7" x2="1541" y2="530.7" stroke="#000" stroke-width="0.5"/>
<line x1="1162" y1="545.6" x2="1541" y2="545.6" stroke="#000" stroke-width="0.5"/>
<line x1="1162" y1="601.7" x2="1541" y2="601.7" stroke="#000" stroke-width="0.9"/>
<g stroke="#000" stroke-width="0.4"><line x1="1205" y1="511" x2="1205" y2="528"/><line x1="1205" y1="533" x2="1205" y2="544"/><line x1="1205" y1="548" x2="1205" y2="600"/><line x1="1283" y1="518" x2="1283" y2="528"/><line x1="1283" y1="548" x2="1283" y2="600"/><line x1="1361" y1="518" x2="1361" y2="528"/><line x1="1361" y1="548" x2="1361" y2="600"/><line x1="1451" y1="518" x2="1451" y2="528"/><line x1="1451" y1="548" x2="1451" y2="600"/></g>
<text x="1166" y="518" font-style="italic">Problem</text><text x="1166" y="526" font-style="italic">Metric</text>
<text x="1283" y="518" text-anchor="middle">Inverse kinematics problem</text><text x="1451" y="518" text-anchor="middle">Wireless power control</text>
<g text-anchor="middle"><text x="1222" y="526">Error ↓</text><text x="1261" y="526">Speedup ↑</text><text x="1300" y="526">Error ↓</text><text x="1339" y="526">Speedup ↑</text><text x="1384" y="526">Opt. gap ↓</text><text x="1428" y="526">Speedup ↑</text><text x="1473" y="526">Opt. gap ↓</text><text x="1518" y="526">Speedup ↑</text></g>
<text x="1166" y="541" font-style="italic">Prob. size</text>
<g text-anchor="middle" font-style="italic"><text x="1244" y="541">d = 2, n = 4</text><text x="1322" y="541">d = 2, n = 7</text><text x="1406" y="541">d = 20², n = 20</text><text x="1496" y="541">d = 40², n = 40</text></g>
<g><text x="1166" y="554">NN</text><text x="1166" y="562.6">Hindsight</text><text x="1166" y="571.2">Cluster</text><text x="1166" y="579.8">GAN</text><text x="1166" y="588.4">Diffusion</text><text x="1166" y="597" font-weight="bold">RectFlow</text></g>
<g text-anchor="middle">
<text x="1222" y="554">2.82</text><text x="1261" y="554">850</text><text x="1300" y="554">4.80</text><text x="1339" y="554">1327</text><text x="1384" y="554">25.42%</text><text x="1428" y="554">16</text><text x="1473" y="554">30.64%</text><text x="1518" y="554">49</text>
<text x="1222" y="562.6">1.06</text><text x="1261" y="562.6">479</text><text x="1300" y="562.6">3.11</text><text x="1339" y="562.6">751</text><text x="1384" y="562.6">21.71%</text><text x="1428" y="562.6">10</text><text x="1473" y="562.6">28.67%</text><text x="1518" y="562.6">28</text>
<text x="1222" y="571.2">1.22</text><text x="1261" y="571.2">481</text><text x="1300" y="571.2">3.69</text><text x="1339" y="571.2">757</text><text x="1384" y="571.2">21.49%</text><text x="1428" y="571.2">10</text><text x="1473" y="571.2">27.15%</text><text x="1518" y="571.2">28</text>
<text x="1222" y="579.8">0.23</text><text x="1261" y="579.8">435</text><text x="1300" y="579.8">1.53</text><text x="1339" y="579.8">593</text><text x="1384" y="579.8">19.31%</text><text x="1428" y="579.8">8</text><text x="1473" y="579.8">36.39%</text><text x="1518" y="579.8">16</text>
<text x="1222" y="588.4">0.05</text><text x="1261" y="588.4">226</text><text x="1300" y="588.4">0.35</text><text x="1339" y="588.4">280</text><text x="1384" y="588.4">12.08%</text><text x="1428" y="588.4">4</text><text x="1473" y="588.4">13.77%</text><text x="1518" y="588.4">6</text>
<text x="1222" y="597">0.04</text><text x="1261" y="597">258</text><text x="1300" y="597">0.37</text><text x="1339" y="597">348</text><text x="1384" y="597">2.94%</text><text x="1428" y="597">5</text><text x="1473" y="597">3.96%</text><text x="1518" y="597">7</text>
</g></g>

<text x="1140" y="623" font-size="12">➢</text>
<text x="1159" y="623" font-size="12.5" textLength="362" lengthAdjust="spacingAndGlyphs"><tspan font-weight="bold">Combinatorial problems</tspan>: the maximum clique, the maximum</text>
<text x="1159" y="641" font-size="12.5" textLength="291" lengthAdjust="spacingAndGlyphs">independent set, and the maximum-cut problem.</text>

<g font-family="Liberation Serif, serif" font-size="9.5">
<line x1="1161" y1="654" x2="1542" y2="654" stroke="#000" stroke-width="0.9"/>
<line x1="1161" y1="679" x2="1542" y2="679" stroke="#000" stroke-width="0.5"/>
<line x1="1161" y1="696" x2="1542" y2="696" stroke="#000" stroke-width="0.5"/>
<line x1="1161" y1="760" x2="1542" y2="760" stroke="#000" stroke-width="0.9"/>
<g stroke="#000" stroke-width="0.4"><line x1="1215" y1="657" x2="1215" y2="676"/><line x1="1215" y1="682" x2="1215" y2="694"/><line x1="1215" y1="699" x2="1215" y2="758"/><line x1="1320.6" y1="664" x2="1320.6" y2="676"/><line x1="1320.6" y1="699" x2="1320.6" y2="758"/><line x1="1436.4" y1="664" x2="1436.4" y2="676"/><line x1="1436.4" y1="699" x2="1436.4" y2="758"/></g>
<text x="1166" y="664" font-style="italic">Problem</text><text x="1166" y="674" font-style="italic">Metric</text>
<g text-anchor="middle"><text x="1268" y="664">Maximum clique</text><text x="1378.6" y="664">Maximum independent set</text><text x="1489" y="664">Maximum cut</text>
<text x="1238" y="674">Opt. gap ↓</text><text x="1294" y="674">Speedup ↑</text><text x="1348" y="674">Opt. gap ↓</text><text x="1405" y="674">Speedup ↑</text><text x="1461" y="674">Opt. gap ↓</text><text x="1516" y="674">Speedup ↑</text>
<text x="1378" y="691">100-node graph: <tspan font-style="italic">d</tspan> = 100², <tspan font-style="italic">n</tspan> = 100</text></g>
<text x="1166" y="691" font-style="italic">Graph size</text>
<g><text x="1166" y="706">NN</text><text x="1166" y="715.7">Hindsight</text><text x="1166" y="725.4">Cluster</text><text x="1166" y="735.1">GAN</text><text x="1166" y="744.8">Diffusion</text><text x="1166" y="754.5" font-weight="bold">RectFlow</text></g>
<g text-anchor="middle">
<text x="1241.5" y="706">22.77%</text><text x="1294" y="706">64.17</text><text x="1347" y="706">23.18%</text><text x="1405" y="706">78.46</text><text x="1463" y="706">12.06%</text><text x="1516" y="706">330.06</text>
<text x="1241.5" y="715.7">17.40%</text><text x="1294" y="715.7">31.00</text><text x="1347" y="715.7">18.84%</text><text x="1405" y="715.7">34.46</text><text x="1463" y="715.7">12.07%</text><text x="1516" y="715.7">106.92</text>
<text x="1241.5" y="725.4">23.49%</text><text x="1294" y="725.4">33.45</text><text x="1347" y="725.4">19.20%</text><text x="1405" y="725.4">30.44</text><text x="1463" y="725.4">99.77%</text><text x="1516" y="725.4">139.44</text>
<text x="1241.5" y="735.1">20.98%</text><text x="1294" y="735.1">36.79</text><text x="1347" y="735.1">16.43%</text><text x="1405" y="735.1">29.68</text><text x="1463" y="735.1">100%</text><text x="1516" y="735.1">170.78</text>
<text x="1241.5" y="744.8">5.73%</text><text x="1294" y="744.8">14.66</text><text x="1347" y="744.8">5.40%</text><text x="1405" y="744.8">14.30</text><text x="1463" y="744.8">8.21%</text><text x="1516" y="744.8">71.10</text>
<text x="1241.5" y="754.5">4.87%</text><text x="1294" y="754.5">18.06</text><text x="1347" y="754.5">5.59%</text><text x="1405" y="754.5">17.02</text><text x="1463" y="754.5">1.35%</text><text x="1516" y="754.5">92.69</text>
</g></g>
</svg>
</body></html>
